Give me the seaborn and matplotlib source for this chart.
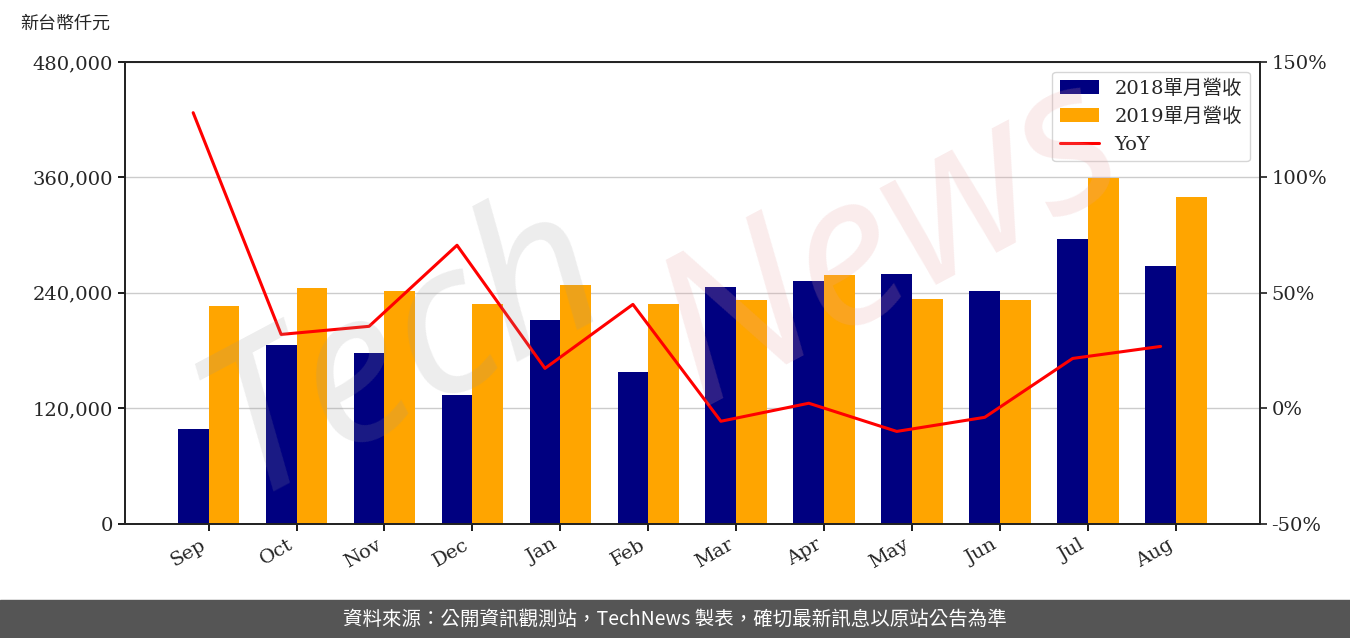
import pandas as pd
import seaborn as sns
import matplotlib.pyplot as plt

months = ["Sep", "Oct", "Nov", "Dec", "Jan", "Feb", "Mar", "Apr", "May", "Jun", "Jul", "Aug"]
rev_2018 = [99000, 186000, 177700, 134000, 212000, 158000, 246000, 252500, 260000, 242000, 296000, 268000]
rev_2019 = [226500, 245000, 242000, 228600, 248000, 228600, 232700, 258700, 233800, 232700, 359500, 339700]
yoy = [128, 32, 35.5, 70.6, 17.3, 45, -5.6, 2.2, -10, -3.9, 21.6, 26.8]

sns.set_theme(style="white")
plt.rcParams['font.family'] = ['DejaVu Serif', 'Noto Sans CJK TC']

df = pd.DataFrame({
    "month": months * 2,
    "rev": rev_2018 + rev_2019,
    "series": ["2018單月營收"] * 12 + ["2019單月營收"] * 12,
})

fig = plt.figure(figsize=(13.5, 6.38), dpi=100)
ax = fig.add_axes([0.0926, 0.179, 0.8404, 0.724])
sns.barplot(data=df, x="month", y="rev", hue="series", palette=["#000080", "#FFA500"],
            width=0.7, saturation=1, linewidth=0, ax=ax)
ax.set_ylim(0, 480000)
ax.set_yticks(range(0, 480001, 120000))
ax.set_yticklabels([f"{v:,}" for v in range(0, 480001, 120000)], fontsize=14)
ax.yaxis.grid(True, color="#cccccc", lw=1)
ax.set_axisbelow(True)
ax.set_xlabel("")
ax.set_ylabel("")
ax.set_xlim(-0.95, 11.95)
plt.setp(ax.get_xticklabels(), rotation=30, ha="right", fontsize=14)
for s in ax.spines.values():
    s.set_color("black")
ax.tick_params(axis="both", length=5, color="black", left=True, bottom=True)

ax2 = ax.twinx()
ax2.plot([i - 0.175 for i in range(12)], yoy, color="red", lw=2.2, label="YoY")
ax2.set_ylim(-50, 150)
ax2.set_yticks(range(-50, 151, 50))
ax2.set_yticklabels([f"{v}%" for v in range(-50, 151, 50)], fontsize=14)
ax2.tick_params(axis="y", length=5, right=True)

h1, l1 = ax.get_legend_handles_labels()
h2, l2 = ax2.get_legend_handles_labels()
ax.get_legend().remove()
ax2.legend(h1 + h2, l1 + l2, loc="upper right", fontsize=14, frameon=True,
           edgecolor="#cccccc", fancybox=True)

fig.text(0.015, 0.955, "新台幣仟元", fontsize=13, family=["Noto Sans CJK TC"])
fig.text(0.3, 0.45, "Tech", fontsize=150, color="#999999", alpha=0.18, rotation=28,
         ha="center", va="center", family=["Noto Sans"], fontweight="bold", style="italic")
fig.text(0.66, 0.62, "News", fontsize=150, color="#e8a0a0", alpha=0.2, rotation=28,
         ha="center", va="center", family=["Noto Sans"], fontweight="bold", style="italic")

fig.patches.append(plt.Rectangle((0, 0), 1, 0.06, transform=fig.transFigure,
                                 color="#555555", zorder=0))
fig.text(0.5, 0.03, "資料來源：公開資訊觀測站，TechNews 製表，確切最新訊息以原站公告為準",
         color="white", fontsize=14, ha="center", va="center", family=["Noto Sans CJK TC"])

fig.savefig("out.png", dpi=100)
